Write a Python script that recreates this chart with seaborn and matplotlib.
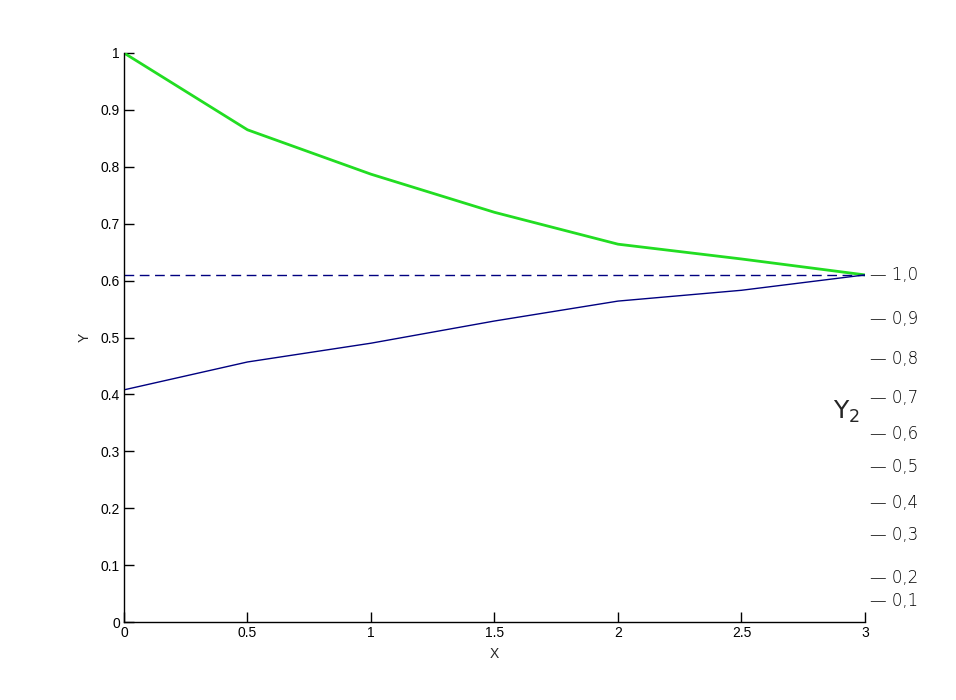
import numpy as np
import pandas as pd
import seaborn as sns
import matplotlib.pyplot as plt

# --- data ---
x_vals = [0, 0.5, 1, 1.5, 2, 2.5, 3]
green_y = [1.0, 0.865, 0.787, 0.720, 0.664, 0.638, 0.610]
blue_y = [0.408, 0.457, 0.490, 0.529, 0.564, 0.583, 0.610]
ref_level = 0.61

# hand-written scale on the right side
y2_labels = ['1,0', '0,9', '0,8', '0,7', '0,6', '0,5', '0,4', '0,3', '0,2', '0,1']
y2_pos = [0.610, 0.532, 0.462, 0.393, 0.330, 0.272, 0.209, 0.153, 0.077, 0.037]

sns.set_theme(style="white")
plt.rcParams['font.family'] = ['Liberation Sans', 'DejaVu Sans']

fig = plt.figure(figsize=(9.56, 7), dpi=100)
ax = fig.add_axes([0.1297, 0.1114, 0.7751, 0.8129])

df = pd.DataFrame({'x': x_vals, 'green': green_y, 'blue': blue_y})
sns.lineplot(data=df, x='x', y='green', ax=ax, color='#22dd22', linewidth=2.0)
sns.lineplot(data=df, x='x', y='blue', ax=ax, color='#000080', linewidth=1.0)
ax.plot([x_vals[0], x_vals[-1]], [ref_level, ref_level], color='#000080',
        linewidth=1.0, linestyle=(0, (7, 4)))

ax.set_xlim(0, 3)
ax.set_ylim(0, 1)
ax.set_xticks(np.arange(0, 3.01, 0.5))
ax.set_xticklabels(['0', '0.5', '1', '1.5', '2', '2.5', '3'])
ax.set_yticks(np.arange(0, 1.01, 0.1))
ax.set_yticklabels(['0', '0.1', '0.2', '0.3', '0.4', '0.5', '0.6', '0.7', '0.8', '0.9', '1'])
ax.tick_params(direction='in', length=7, width=1, labelsize=10, colors='black',
               left=True, bottom=True, pad=3)
ax.set_xlabel('X', fontsize=10, labelpad=5)
ax.set_ylabel('Y', fontsize=10, labelpad=6)
for side in ['top', 'right']:
    ax.spines[side].set_visible(False)
for side in ['left', 'bottom']:
    ax.spines[side].set_color('black')
    ax.spines[side].set_linewidth(1)

# hand-drawn annotations
for lab, yp in zip(y2_labels, y2_pos):
    ax.text(3.02, yp, '\u2014 ' + lab, fontsize=12, va='center', ha='left',
            clip_on=False, color='black', family=['DejaVu Sans'],
            fontweight='light')
ax.text(2.87, 0.37, r'$\mathrm{Y}_2$', fontsize=18, va='center', ha='left', clip_on=False)

fig.savefig('out.png', dpi=100)
